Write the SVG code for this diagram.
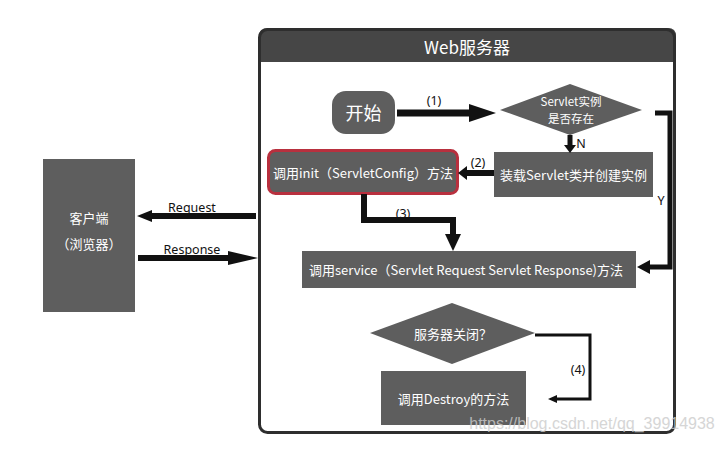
<svg xmlns="http://www.w3.org/2000/svg" width="728" height="449" viewBox="0 0 728 449">
<style>
.box{fill:#5e5e5e}
.t{font-family:"Noto Sans CJK SC","Noto Sans",sans-serif;fill:#fff;font-size:13px;text-anchor:middle;dominant-baseline:central}
.l{font-family:"Noto Sans","Noto Sans CJK SC",sans-serif;fill:#111;font-size:12.5px;text-anchor:middle;dominant-baseline:central}
.c{fill:none;stroke:#111}
.h{fill:#111}
</style>
<rect width="728" height="449" fill="#fff"/>
<g id="webserver">
<path d="M268 28 H668 Q676 28 676 36 V62 H259 V36 Q259 28 268 28 Z" fill="#464646"/>
<rect x="259.5" y="29.5" width="415" height="403" rx="8" fill="none" stroke="#2e2e2e" stroke-width="3"/>
<text class="t" x="467" y="46" style="font-size:17px">Web服务器</text>
</g>
<g id="client">
<rect class="box" x="43" y="159" width="92" height="153" fill="#676767"/>
<text class="t" x="89" y="217">客户端</text>
<text class="t" x="89" y="243">（浏览器）</text>
</g>
<g id="start">
<rect class="box" x="332" y="91" width="63" height="43" rx="14"/>
<text class="t" x="363.5" y="112" style="font-size:18px">开始</text>
</g>
<g id="exists">
<polygon class="box" points="500,110 570,84 642,110 570,135"/>
<text class="t" x="571" y="101" style="font-size:11.5px">Servlet实例</text>
<text class="t" x="571" y="118" style="font-size:11.5px">是否存在</text>
</g>
<g id="load">
<rect class="box" x="494" y="152" width="159" height="45"/>
<text class="t" x="573.5" y="174.5">装载Servlet类并创建实例</text>
</g>
<g id="init">
<rect class="box" x="268.5" y="150.5" width="189" height="43" rx="7" stroke="#b8303e" stroke-width="3"/>
<text class="t" x="363" y="172">调用init（ServletConfig）方法</text>
</g>
<g id="service">
<rect class="box" x="302" y="251" width="334" height="37"/>
<text class="t" x="466" y="269.5">调用service（Servlet Request Servlet Response)方法</text>
</g>
<g id="shutdown">
<polygon class="box" points="370,333 452,303 535,333 452,364"/>
<text class="t" x="453" y="333">服务器关闭？</text>
</g>
<g id="destroy">
<rect class="box" x="381" y="371" width="145" height="54"/>
<text class="t" x="453.5" y="398">调用Destroy的方法</text>
</g>
<g id="connectors">
<path class="c" d="M397 113 H472" stroke-width="7"/>
<polygon class="h" points="469,104 496,113 469,122"/>
<text class="l" x="434" y="100">(1)</text>
<path class="c" d="M570 135 V147" stroke-width="5"/>
<polygon class="h" points="564,145 576,145 570,153"/>
<text class="l" x="581" y="143">N</text>
<path class="c" d="M494 173 H465" stroke-width="6"/>
<polygon class="h" points="467,166 458,173 467,180"/>
<text class="l" x="478" y="162">(2)</text>
<path class="c" d="M364 194 V220 H453 V238" stroke-width="6"/>
<polygon class="h" points="445,234 461,234 453,251"/>
<text class="l" x="403" y="213">(3)</text>
<path class="c" d="M655 113 H670 V267 H648" stroke-width="5"/>
<polygon class="h" points="650,260 637,267 650,274"/>
<text class="l" x="661" y="200">Y</text>
<path class="c" d="M535 335 H590 V399 H555" stroke-width="3"/>
<polygon class="h" points="557,395 548,399 557,403"/>
<text class="l" x="578" y="369">(4)</text>
<path class="c" d="M256 216 H150" stroke-width="6"/>
<polygon class="h" points="152,210 137,216 152,222"/>
<text class="l" x="192" y="207">Request</text>
<path class="c" d="M138 258 H244" stroke-width="6"/>
<polygon class="h" points="228,251 258,258 228,265"/>
<text class="l" x="192" y="249">Response</text>
</g>
<text x="592" y="429" style="font-family:'Liberation Sans',sans-serif;font-size:16px;fill:#ccc;text-anchor:middle;opacity:0.8">https://blog.csdn.net/qq_39914938</text>
</svg>
